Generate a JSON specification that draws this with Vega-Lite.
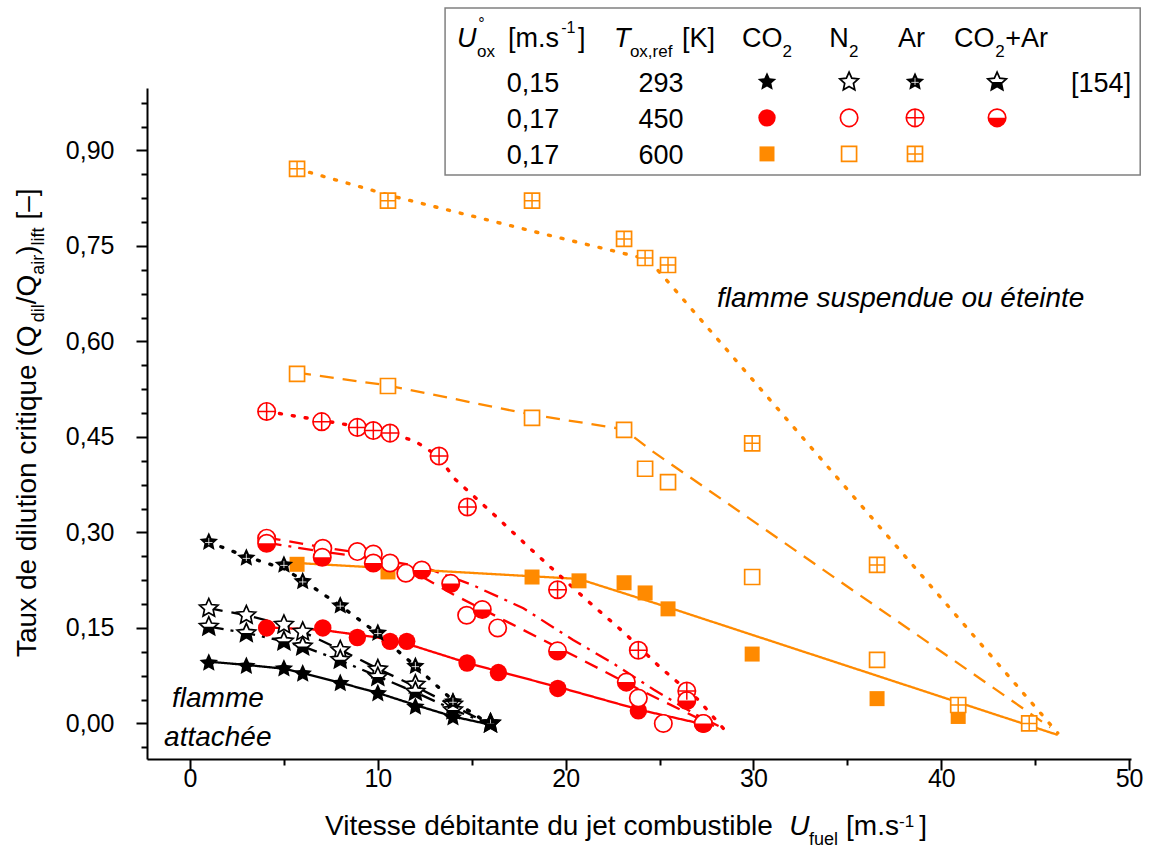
{
  "$schema": "https://vega.github.io/schema/vega-lite/v6.json",
  "background": "white",
  "autosize": {"type": "none"},
  "padding": {"left": 147, "top": 88, "right": 18, "bottom": 90},
  "width": 984,
  "height": 671,
  "config": {"view": {"stroke": null}, "text": {"font": "Liberation Sans", "color": "#000"}},
  "datasets": {
    "pts": [
      {"T":"293","dil":"CO2","x":1,"y":0.095},{"T":"293","dil":"CO2","x":3,"y":0.09},{"T":"293","dil":"CO2","x":5,"y":0.086},{"T":"293","dil":"CO2","x":6,"y":0.078},{"T":"293","dil":"CO2","x":8,"y":0.063},{"T":"293","dil":"CO2","x":10,"y":0.047},{"T":"293","dil":"CO2","x":12,"y":0.026},{"T":"293","dil":"CO2","x":14,"y":0.009},{"T":"293","dil":"CO2","x":16,"y":0.0},
      {"T":"293","dil":"N2","x":1,"y":0.181},{"T":"293","dil":"N2","x":3,"y":0.17},{"T":"293","dil":"N2","x":5,"y":0.155},{"T":"293","dil":"N2","x":6,"y":0.144},{"T":"293","dil":"N2","x":8,"y":0.115},{"T":"293","dil":"N2","x":10,"y":0.085},{"T":"293","dil":"N2","x":12,"y":0.061},{"T":"293","dil":"N2","x":14,"y":0.03},{"T":"293","dil":"N2","x":16,"y":0.0},
      {"T":"293","dil":"Ar","x":1,"y":0.285},{"T":"293","dil":"Ar","x":3,"y":0.26},{"T":"293","dil":"Ar","x":5,"y":0.249},{"T":"293","dil":"Ar","x":6,"y":0.223},{"T":"293","dil":"Ar","x":8,"y":0.185},{"T":"293","dil":"Ar","x":10,"y":0.142},{"T":"293","dil":"Ar","x":12,"y":0.09},{"T":"293","dil":"Ar","x":14,"y":0.034},{"T":"293","dil":"Ar","x":16,"y":0.0},
      {"T":"293","dil":"CO2+Ar","x":1,"y":0.152},{"T":"293","dil":"CO2+Ar","x":3,"y":0.142},{"T":"293","dil":"CO2+Ar","x":5,"y":0.129},{"T":"293","dil":"CO2+Ar","x":6,"y":0.121},{"T":"293","dil":"CO2+Ar","x":8,"y":0.1},{"T":"293","dil":"CO2+Ar","x":10,"y":0.073},{"T":"293","dil":"CO2+Ar","x":12,"y":0.05},{"T":"293","dil":"CO2+Ar","x":14,"y":0.021},{"T":"293","dil":"CO2+Ar","x":16,"y":0.0},
      {"T":"450","dil":"CO2","x":4.08,"y":0.15},{"T":"450","dil":"CO2","x":7.07,"y":0.15},{"T":"450","dil":"CO2","x":8.91,"y":0.135},{"T":"450","dil":"CO2","x":10.65,"y":0.129},{"T":"450","dil":"CO2","x":11.54,"y":0.129},{"T":"450","dil":"CO2","x":14.75,"y":0.095},{"T":"450","dil":"CO2","x":16.42,"y":0.08},{"T":"450","dil":"CO2","x":19.58,"y":0.055},{"T":"450","dil":"CO2","x":23.87,"y":0.02},
      {"T":"450","dil":"N2","x":4.08,"y":0.291},{"T":"450","dil":"N2","x":7.07,"y":0.275},{"T":"450","dil":"N2","x":8.91,"y":0.27},{"T":"450","dil":"N2","x":9.76,"y":0.266},{"T":"450","dil":"N2","x":10.65,"y":0.252},{"T":"450","dil":"N2","x":11.49,"y":0.236},{"T":"450","dil":"N2","x":14.73,"y":0.17},{"T":"450","dil":"N2","x":16.38,"y":0.15},{"T":"450","dil":"N2","x":23.87,"y":0.04},{"T":"450","dil":"N2","x":25.2,"y":0.0},{"T":"450","dil":"N2","x":27.33,"y":0.0},
      {"T":"450","dil":"Ar","x":4.08,"y":0.49},{"T":"450","dil":"Ar","x":7.01,"y":0.474},{"T":"450","dil":"Ar","x":8.91,"y":0.465},{"T":"450","dil":"Ar","x":9.76,"y":0.46},{"T":"450","dil":"Ar","x":10.65,"y":0.456},{"T":"450","dil":"Ar","x":13.26,"y":0.42},{"T":"450","dil":"Ar","x":14.77,"y":0.34},{"T":"450","dil":"Ar","x":19.57,"y":0.21},{"T":"450","dil":"Ar","x":23.87,"y":0.115},{"T":"450","dil":"Ar","x":26.45,"y":0.051},
      {"T":"450","dil":"CO2+Ar","x":4.08,"y":0.283},{"T":"450","dil":"CO2+Ar","x":7.04,"y":0.261},{"T":"450","dil":"CO2+Ar","x":9.76,"y":0.252},{"T":"450","dil":"CO2+Ar","x":12.34,"y":0.241},{"T":"450","dil":"CO2+Ar","x":13.88,"y":0.22},{"T":"450","dil":"CO2+Ar","x":15.56,"y":0.179},{"T":"450","dil":"CO2+Ar","x":19.57,"y":0.114},{"T":"450","dil":"CO2+Ar","x":23.23,"y":0.065},{"T":"450","dil":"CO2+Ar","x":26.45,"y":0.036},{"T":"450","dil":"CO2+Ar","x":27.33,"y":0.0},
      {"T":"600","dil":"CO2","x":5.7,"y":0.25},{"T":"600","dil":"CO2","x":10.54,"y":0.238},{"T":"600","dil":"CO2","x":18.21,"y":0.23},{"T":"600","dil":"CO2","x":20.71,"y":0.224},{"T":"600","dil":"CO2","x":23.11,"y":0.221},{"T":"600","dil":"CO2","x":24.23,"y":0.205},{"T":"600","dil":"CO2","x":25.45,"y":0.18},{"T":"600","dil":"CO2","x":29.93,"y":0.109},{"T":"600","dil":"CO2","x":36.58,"y":0.039},{"T":"600","dil":"CO2","x":40.9,"y":0.011},
      {"T":"600","dil":"N2","x":5.7,"y":0.549},{"T":"600","dil":"N2","x":10.54,"y":0.53},{"T":"600","dil":"N2","x":18.21,"y":0.48},{"T":"600","dil":"N2","x":23.11,"y":0.461},{"T":"600","dil":"N2","x":24.23,"y":0.4},{"T":"600","dil":"N2","x":25.45,"y":0.379},{"T":"600","dil":"N2","x":29.93,"y":0.23},{"T":"600","dil":"N2","x":36.58,"y":0.1},
      {"T":"600","dil":"Ar","x":5.7,"y":0.871},{"T":"600","dil":"Ar","x":10.54,"y":0.821},{"T":"600","dil":"Ar","x":18.21,"y":0.821},{"T":"600","dil":"Ar","x":23.11,"y":0.761},{"T":"600","dil":"Ar","x":24.23,"y":0.731},{"T":"600","dil":"Ar","x":25.45,"y":0.72},{"T":"600","dil":"Ar","x":29.93,"y":0.44},{"T":"600","dil":"Ar","x":36.58,"y":0.249},{"T":"600","dil":"Ar","x":40.9,"y":0.029},{"T":"600","dil":"Ar","x":44.68,"y":0.0},
      {"T":"293","dil":"CO2","x":30.72,"y":1.0076},{"T":"293","dil":"N2","x":35.09,"y":1.0076},{"T":"293","dil":"Ar","x":38.6,"y":1.0076},{"T":"293","dil":"CO2+Ar","x":42.97,"y":1.0076},
      {"T":"450","dil":"CO2","x":30.72,"y":0.9511},{"T":"450","dil":"N2","x":35.09,"y":0.9511},{"T":"450","dil":"Ar","x":38.6,"y":0.9511},{"T":"450","dil":"CO2+Ar","x":42.97,"y":0.9511},
      {"T":"600","dil":"CO2","x":30.72,"y":0.8945},{"T":"600","dil":"N2","x":35.09,"y":0.8945},{"T":"600","dil":"Ar","x":38.6,"y":0.8945}
    ],
    "lns": [
      {"T":"293","dil":"CO2","x":1,"y":0.097},{"T":"293","dil":"CO2","x":3,"y":0.092},{"T":"293","dil":"CO2","x":5,"y":0.086},{"T":"293","dil":"CO2","x":6,"y":0.079},{"T":"293","dil":"CO2","x":8,"y":0.064},{"T":"293","dil":"CO2","x":10,"y":0.048},{"T":"293","dil":"CO2","x":12,"y":0.029},{"T":"293","dil":"CO2","x":14,"y":0.011},{"T":"293","dil":"CO2","x":16,"y":-0.002},
      {"T":"293","dil":"N2","x":1,"y":0.181},{"T":"293","dil":"N2","x":3,"y":0.17},{"T":"293","dil":"N2","x":5,"y":0.155},{"T":"293","dil":"N2","x":6,"y":0.144},{"T":"293","dil":"N2","x":8,"y":0.116},{"T":"293","dil":"N2","x":10,"y":0.086},{"T":"293","dil":"N2","x":12,"y":0.058},{"T":"293","dil":"N2","x":14,"y":0.028},{"T":"293","dil":"N2","x":16,"y":-0.002},
      {"T":"293","dil":"Ar","x":1,"y":0.285},{"T":"293","dil":"Ar","x":3,"y":0.262},{"T":"293","dil":"Ar","x":5,"y":0.243},{"T":"293","dil":"Ar","x":6,"y":0.225},{"T":"293","dil":"Ar","x":8,"y":0.185},{"T":"293","dil":"Ar","x":10,"y":0.141},{"T":"293","dil":"Ar","x":12,"y":0.09},{"T":"293","dil":"Ar","x":14,"y":0.036},{"T":"293","dil":"Ar","x":16,"y":-0.002},
      {"T":"293","dil":"CO2+Ar","x":1,"y":0.152},{"T":"293","dil":"CO2+Ar","x":3,"y":0.142},{"T":"293","dil":"CO2+Ar","x":5,"y":0.129},{"T":"293","dil":"CO2+Ar","x":6,"y":0.121},{"T":"293","dil":"CO2+Ar","x":8,"y":0.099},{"T":"293","dil":"CO2+Ar","x":10,"y":0.074},{"T":"293","dil":"CO2+Ar","x":12,"y":0.049},{"T":"293","dil":"CO2+Ar","x":14,"y":0.022},{"T":"293","dil":"CO2+Ar","x":16,"y":-0.002},
      {"T":"450","dil":"CO2","x":4.08,"y":0.151},{"T":"450","dil":"CO2","x":7,"y":0.147},{"T":"450","dil":"CO2","x":10,"y":0.135},{"T":"450","dil":"CO2","x":12,"y":0.121},{"T":"450","dil":"CO2","x":15,"y":0.093},{"T":"450","dil":"CO2","x":20,"y":0.054},{"T":"450","dil":"CO2","x":24,"y":0.021},{"T":"450","dil":"CO2","x":27.6,"y":-0.003},
      {"T":"450","dil":"N2","x":4.08,"y":0.292},{"T":"450","dil":"N2","x":7,"y":0.277},{"T":"450","dil":"N2","x":9,"y":0.268},{"T":"450","dil":"N2","x":11,"y":0.25},{"T":"450","dil":"N2","x":12.5,"y":0.228},{"T":"450","dil":"N2","x":14,"y":0.203},{"T":"450","dil":"N2","x":17,"y":0.158},{"T":"450","dil":"N2","x":21,"y":0.098},{"T":"450","dil":"N2","x":24,"y":0.052},{"T":"450","dil":"N2","x":27.9,"y":-0.004},
      {"T":"450","dil":"Ar","x":4.08,"y":0.49},{"T":"450","dil":"Ar","x":7,"y":0.476},{"T":"450","dil":"Ar","x":9,"y":0.466},{"T":"450","dil":"Ar","x":10.65,"y":0.456},{"T":"450","dil":"Ar","x":12,"y":0.443},{"T":"450","dil":"Ar","x":13.2,"y":0.42},{"T":"450","dil":"Ar","x":14.1,"y":0.384},{"T":"450","dil":"Ar","x":16.15,"y":0.329},{"T":"450","dil":"Ar","x":18.1,"y":0.275},{"T":"450","dil":"Ar","x":21,"y":0.197},{"T":"450","dil":"Ar","x":23.1,"y":0.143},{"T":"450","dil":"Ar","x":25,"y":0.089},{"T":"450","dil":"Ar","x":27.07,"y":0.037},{"T":"450","dil":"Ar","x":28.4,"y":-0.008},
      {"T":"450","dil":"CO2+Ar","x":4.08,"y":0.284},{"T":"450","dil":"CO2+Ar","x":7,"y":0.27},{"T":"450","dil":"CO2+Ar","x":10,"y":0.258},{"T":"450","dil":"CO2+Ar","x":12.5,"y":0.245},{"T":"450","dil":"CO2+Ar","x":15,"y":0.218},{"T":"450","dil":"CO2+Ar","x":17.75,"y":0.181},{"T":"450","dil":"CO2+Ar","x":20.4,"y":0.131},{"T":"450","dil":"CO2+Ar","x":22.5,"y":0.095},{"T":"450","dil":"CO2+Ar","x":24.7,"y":0.053},{"T":"450","dil":"CO2+Ar","x":26.8,"y":0.016},{"T":"450","dil":"CO2+Ar","x":28.4,"y":-0.008},
      {"T":"600","dil":"CO2","x":5.7,"y":0.252},{"T":"600","dil":"CO2","x":20.7,"y":0.227},{"T":"600","dil":"CO2","x":25.5,"y":0.182},{"T":"600","dil":"CO2","x":46.2,"y":-0.018},
      {"T":"600","dil":"N2","x":5.7,"y":0.551},{"T":"600","dil":"N2","x":10.5,"y":0.531},{"T":"600","dil":"N2","x":18.2,"y":0.485},{"T":"600","dil":"N2","x":23.1,"y":0.462},{"T":"600","dil":"N2","x":24.5,"y":0.43},{"T":"600","dil":"N2","x":45.8,"y":-0.006},
      {"T":"600","dil":"Ar","x":5.7,"y":0.871},{"T":"600","dil":"Ar","x":10.94,"y":0.827},{"T":"600","dil":"Ar","x":18.8,"y":0.769},{"T":"600","dil":"Ar","x":23.96,"y":0.732},{"T":"600","dil":"Ar","x":24.6,"y":0.722},{"T":"600","dil":"Ar","x":25.5,"y":0.692},{"T":"600","dil":"Ar","x":46.2,"y":-0.015}
    ]
  },
  "encoding": {
    "x": {"field": "x", "type": "quantitative",
      "scale": {"domain": [-2.29, 50.1], "nice": false, "zero": false},
      "axis": {"title": null, "values": [0,5,10,15,20,25,30,35,40,45,50], "grid": false,
        "domainColor": "#000", "domainWidth": 2, "tickColor": "#000", "tickWidth": 2,
        "tickSize": {"condition": {"test": "datum.value % 10 === 0", "value": 11}, "value": 6},
        "labelExpr": "datum.value % 10 === 0 ? datum.label : ''",
        "labelFont": "Liberation Sans", "labelFontSize": 25, "labelColor": "#000", "labelPadding": -4,
        "labelFlush": false, "labelOverlap": false, "labelBound": false}},
    "y": {"field": "y", "type": "quantitative",
      "scale": {"domain": [-0.0558, 0.998], "nice": false, "zero": false},
      "axis": {"title": null, "values": [-0.0375,0,0.0375,0.075,0.1125,0.15,0.1875,0.225,0.2625,0.3,0.3375,0.375,0.4125,0.45,0.4875,0.525,0.5625,0.6,0.6375,0.675,0.7125,0.75,0.7875,0.825,0.8625,0.9,0.9375,0.975],
        "grid": false, "domainColor": "#000", "domainWidth": 2, "tickColor": "#000", "tickWidth": 2,
        "tickSize": {"condition": {"test": "abs(datum.value/0.15 - round(datum.value/0.15)) < 0.01", "value": 11}, "value": 6},
        "labelExpr": "abs(datum.value/0.15 - round(datum.value/0.15)) < 0.01 ? replace(format(datum.value, '.2f'), '.', ',') : ''",
        "labelFont": "Liberation Sans", "labelFontSize": 25, "labelColor": "#000", "labelPadding": 22,
        "labelFlush": false, "labelOverlap": false, "labelBound": false}}
  },
  "layer": [
    {"data": {"name": "lns"}, "transform": [{"filter": "datum.dil !== 'Ar'"}],
     "mark": {"type": "line", "strokeWidth": 2.3},
     "encoding": {
       "color": {"field": "T", "type": "nominal", "scale": {"domain": ["293","450","600"], "range": ["#000000","#ff0000","#ff8a00"]}, "legend": null},
       "strokeDash": {"field": "dil", "type": "nominal", "scale": {"domain": ["CO2","N2","CO2+Ar"], "range": [[1,0],[14,9],[15,7,3,7]]}, "legend": null}
     }},
    {"data": {"name": "lns"}, "transform": [{"filter": "datum.dil === 'Ar'"}],
     "mark": {"type": "line", "strokeWidth": 3.4, "strokeCap": "round", "strokeDash": [2, 11]},
     "encoding": {
       "color": {"field": "T", "type": "nominal", "legend": null},
       "detail": {"field": "T"}
     }},
    {"data": {"values": [{"x": 13.58, "x2": 50.59, "y": 1.1238, "y2": 0.8615}]},
     "mark": {"type": "rect", "fill": "white", "stroke": "#808080", "strokeWidth": 1.5},
     "encoding": {"x2": {"field": "x2"}, "y2": {"field": "y2"}}},
    {"data": {"name": "pts"}, "transform": [{"filter": "datum.dil === 'CO2'"}],
     "mark": {"type": "point", "filled": true, "opacity": 1},
     "encoding": {
       "color": {"field": "T", "type": "nominal", "legend": null},
       "shape": {"field": "T", "type": "nominal", "scale": {"domain": ["293","450","600"], "range": ["M0,-1L0.276,-0.38L0.951,-0.309L0.447,0.145L0.588,0.809L0,0.47L-0.588,0.809L-0.447,0.145L-0.951,-0.309L-0.276,-0.38Z","circle","square"]}, "legend": null},
       "size": {"field": "T", "type": "ordinal", "scale": {"domain": ["293","450","600"], "range": [380,225,180]}, "legend": null}
     }},
    {"data": {"name": "pts"}, "transform": [{"filter": "datum.dil === 'N2' || datum.dil === 'CO2+Ar' || (datum.dil === 'Ar' && datum.T !== '293')"}],
     "mark": {"type": "point", "filled": false, "fill": "white", "fillOpacity": 1, "strokeWidth": 1.7, "opacity": 1},
     "encoding": {
       "color": {"field": "T", "type": "nominal", "legend": null},
       "shape": {"field": "T", "type": "nominal", "legend": null},
       "size": {"field": "T", "type": "ordinal", "legend": null}
     }},
    {"data": {"name": "pts"}, "transform": [{"filter": "datum.dil === 'Ar' && datum.T !== '293'"}],
     "mark": {"type": "point", "filled": false, "shape": "M-1,0L1,0M0,-1L0,1", "strokeWidth": 1.5, "opacity": 1},
     "encoding": {
       "color": {"field": "T", "type": "nominal", "legend": null},
       "size": {"field": "T", "type": "ordinal", "legend": null}
     }},
    {"data": {"name": "pts"}, "transform": [{"filter": "datum.dil === 'Ar' && datum.T === '293'"}],
     "mark": {"type": "point", "filled": true, "opacity": 1, "shape": "M0,-1L0.276,-0.38L0.951,-0.309L0.447,0.145L0.588,0.809L0,0.47L-0.588,0.809L-0.447,0.145L-0.951,-0.309L-0.276,-0.38Z"},
     "encoding": {
       "color": {"field": "T", "type": "nominal", "legend": null},
       "size": {"field": "T", "type": "ordinal", "legend": null}
     }},
    {"data": {"name": "pts"}, "transform": [{"filter": "datum.dil === 'Ar' && datum.T === '293'"}],
     "mark": {"type": "point", "filled": false, "color": "white", "strokeWidth": 0.8, "opacity": 1, "shape": "M-0.38,0.05L0.38,0.05M0,-0.42L0,0.32"},
     "encoding": {
       "size": {"field": "T", "type": "ordinal", "legend": null}
     }},
    {"data": {"name": "pts"}, "transform": [{"filter": "datum.dil === 'CO2+Ar' && datum.T === '293'"}],
     "mark": {"type": "point", "filled": true, "opacity": 1, "shape": "M0.608,0L0.447,0.145L0.588,0.809L0,0.47L-0.588,0.809L-0.447,0.145L-0.608,0Z"},
     "encoding": {
       "color": {"field": "T", "type": "nominal", "legend": null},
       "size": {"field": "T", "type": "ordinal", "legend": null}
     }},
    {"data": {"name": "pts"}, "transform": [{"filter": "datum.dil === 'CO2+Ar' && datum.T === '450'"}],
     "mark": {"type": "point", "filled": true, "opacity": 1, "shape": "M-1,0A1,1,0,0,0,1,0Z"},
     "encoding": {
       "color": {"field": "T", "type": "nominal", "legend": null},
       "size": {"field": "T", "type": "ordinal", "legend": null}
     }},
    {"data": {"values": [
       {"t": "Vitesse débitante du jet combustible", "x": 7.19, "y": -0.1752},
       {"t": "[m.s", "x": 34.93, "y": -0.1752},
       {"t": "]", "x": 38.82, "y": -0.1752}]},
     "mark": {"type": "text", "fontSize": 28, "align": "left", "baseline": "alphabetic"},
     "encoding": {"text": {"field": "t"}}},
    {"data": {"values": [{"t": "U", "x": 31.9, "y": -0.1752}]},
     "mark": {"type": "text", "fontSize": 28, "fontStyle": "italic", "align": "left", "baseline": "alphabetic"},
     "encoding": {"text": {"field": "t"}}},
    {"data": {"values": [{"t": "fuel", "x": 32.96, "y": -0.1915}]},
     "mark": {"type": "text", "fontSize": 18, "align": "left", "baseline": "alphabetic"},
     "encoding": {"text": {"field": "t"}}},
    {"data": {"values": [{"t": "-1", "x": 37.75, "y": -0.1626}]},
     "mark": {"type": "text", "fontSize": 17, "align": "left", "baseline": "alphabetic"},
     "encoding": {"text": {"field": "t"}}},
    {"data": {"values": [
       {"t": "Taux de dilution critique (Q", "x": -8.2, "y": 0.1044},
       {"t": "/Q", "x": -8.2, "y": 0.6583},
       {"t": ")", "x": -8.2, "y": 0.7361},
       {"t": "[–]", "x": -8.2, "y": 0.7913}]},
     "mark": {"type": "text", "fontSize": 28, "angle": 270, "align": "left", "baseline": "alphabetic"},
     "encoding": {"text": {"field": "t"}}},
    {"data": {"values": [
       {"t": "dil", "x": -8.2, "y": 0.630},
       {"t": "air", "x": -8.2, "y": 0.7047},
       {"t": "lift", "x": -8.2, "y": 0.7508}]},
     "mark": {"type": "text", "fontSize": 18, "angle": 270, "align": "left", "baseline": "alphabetic", "dy": 8},
     "encoding": {"text": {"field": "t"}}},
    {"data": {"values": [
       {"t": "flamme suspendue ou éteinte", "x": 28.06, "y": 0.654},
       {"t": "flamme", "x": -0.96, "y": 0.0259},
       {"t": "attachée", "x": -1.38, "y": -0.035}]},
     "mark": {"type": "text", "fontSize": 28, "fontStyle": "italic", "align": "left", "baseline": "alphabetic"},
     "encoding": {"text": {"field": "t"}}},
    {"data": {"values": [
       {"t": "[m.s", "x": 16.93, "y": 1.0625},
       {"t": "]", "x": 20.66, "y": 1.0625},
       {"t": "[K]", "x": 26.2, "y": 1.0625},
       {"t": "CO", "x": 29.39, "y": 1.0625},
       {"t": "N", "x": 34.03, "y": 1.0625},
       {"t": "Ar", "x": 37.7, "y": 1.0625},
       {"t": "CO", "x": 40.68, "y": 1.0625},
       {"t": "+Ar", "x": 43.4, "y": 1.0625},
       {"t": "[154]", "x": 46.91, "y": 0.9923}]},
     "mark": {"type": "text", "fontSize": 27, "align": "left", "baseline": "alphabetic"},
     "encoding": {"text": {"field": "t"}}},
    {"data": {"values": [
       {"t": "0,15", "x": 18.26, "y": 0.9923},
       {"t": "0,17", "x": 18.26, "y": 0.9358},
       {"t": "0,17", "x": 18.26, "y": 0.8792},
       {"t": "293", "x": 25.08, "y": 0.9923},
       {"t": "450", "x": 25.08, "y": 0.9358},
       {"t": "600", "x": 25.08, "y": 0.8792}]},
     "mark": {"type": "text", "fontSize": 27, "align": "center", "baseline": "alphabetic"},
     "encoding": {"text": {"field": "t"}}},
    {"data": {"values": [
       {"t": "U", "x": 14.22, "y": 1.0625},
       {"t": "T", "x": 22.58, "y": 1.0625}]},
     "mark": {"type": "text", "fontSize": 27, "fontStyle": "italic", "align": "left", "baseline": "alphabetic"},
     "encoding": {"text": {"field": "t"}}},
    {"data": {"values": [
       {"t": "ox", "x": 15.28, "y": 1.0468},
       {"t": "ox,ref", "x": 23.42, "y": 1.0468},
       {"t": "2", "x": 31.55, "y": 1.0468},
       {"t": "2", "x": 35.09, "y": 1.0468},
       {"t": "2", "x": 42.87, "y": 1.0468}]},
     "mark": {"type": "text", "fontSize": 17, "align": "left", "baseline": "alphabetic"},
     "encoding": {"text": {"field": "t"}}},
    {"data": {"values": [
       {"t": "°", "x": 15.34, "y": 1.0911},
       {"t": "-1", "x": 19.76, "y": 1.0845}]},
     "mark": {"type": "text", "fontSize": 16, "align": "left", "baseline": "alphabetic"},
     "encoding": {"text": {"field": "t"}}}
  ]
}
